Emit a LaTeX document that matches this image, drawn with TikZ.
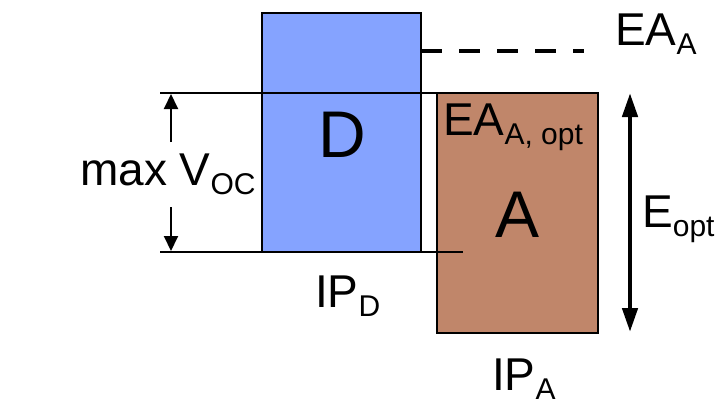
\documentclass[tikz,border=0pt]{standalone}
\usepackage{fontspec}
\setmainfont{Liberation Sans}
\usetikzlibrary{arrows.meta}
\definecolor{dblue}{HTML}{85A3FF}
\definecolor{abrown}{HTML}{C0866A}
\newcommand{\lsub}[1]{\raisebox{-9pt}{\fontsize{30}{32}\selectfont #1}}
\begin{document}
\begin{tikzpicture}[x=1pt,y=-1pt,
  levelbox/.style={draw=black,line width=1.8pt,inner sep=0pt,outer sep=0pt,anchor=north west},
  bigletter/.style={font=\fontsize{66}{70}\selectfont,inner sep=0pt,anchor=base},
  lbl/.style={inner sep=0pt,anchor=base west,font=\fontsize{46}{50}\selectfont},
  levelline/.style={line width=1.6pt},
  dashline/.style={line width=4.5pt,dash pattern=on 21pt off 17pt},
  vocarrow/.style={line width=2pt,-{Triangle[length=15pt,width=14pt]}},
  optarrow/.style={line width=4.5pt,{Triangle[length=24pt,width=15pt]}-{Triangle[length=24pt,width=15pt]}}]
\useasboundingbox (0,0) rectangle (720,399);
% boxes
\node[levelbox,fill=dblue,minimum width=159pt,minimum height=239pt] (dbox) at (262,13) {};
\node[levelbox,fill=abrown,minimum width=161pt,minimum height=240pt] (abox) at (437,93) {};
\node[bigletter] (dlet) at (342,157) {D};
\node[bigletter] (alet) at (518,237) {A};
% level lines
\coordinate (lumoL) at (160,93);
\coordinate (homoL) at (160,252);
\coordinate (homoR) at (463,252);
\coordinate (eaR) at (584,51);
\draw[levelline] (lumoL) -- (abox.north west);
\draw[levelline] (homoL) -- (homoR);
\draw[dashline] (dbox.north east |- eaR) -- (eaR);
% max Voc arrows
\coordinate (vt1) at (171,142);
\coordinate (vt2) at (171,94);
\coordinate (vb1) at (171,207);
\coordinate (vb2) at (171,251);
\draw[vocarrow] (vt1) -- (vt2);
\draw[vocarrow] (vb1) -- (vb2);
% Eopt arrow
\coordinate (et) at (630,93);
\coordinate (eb) at (630,332);
\draw[optarrow] (et) -- (eb);
% labels
\node[lbl] (eaa) at (615,45) {EA\lsub{A}};
\node[lbl] (eaopt) at (443,135) {EA\lsub{A, opt}};
\node[lbl] (voc) at (80,185) {max V\lsub{OC}};
\node[lbl] (eopt) at (642,227) {E\lsub{opt}};
\node[lbl] (ipd) at (315,307) {IP\lsub{D}};
\node[lbl] (ipa) at (492,390) {IP\lsub{A}};
\end{tikzpicture}
\end{document}
